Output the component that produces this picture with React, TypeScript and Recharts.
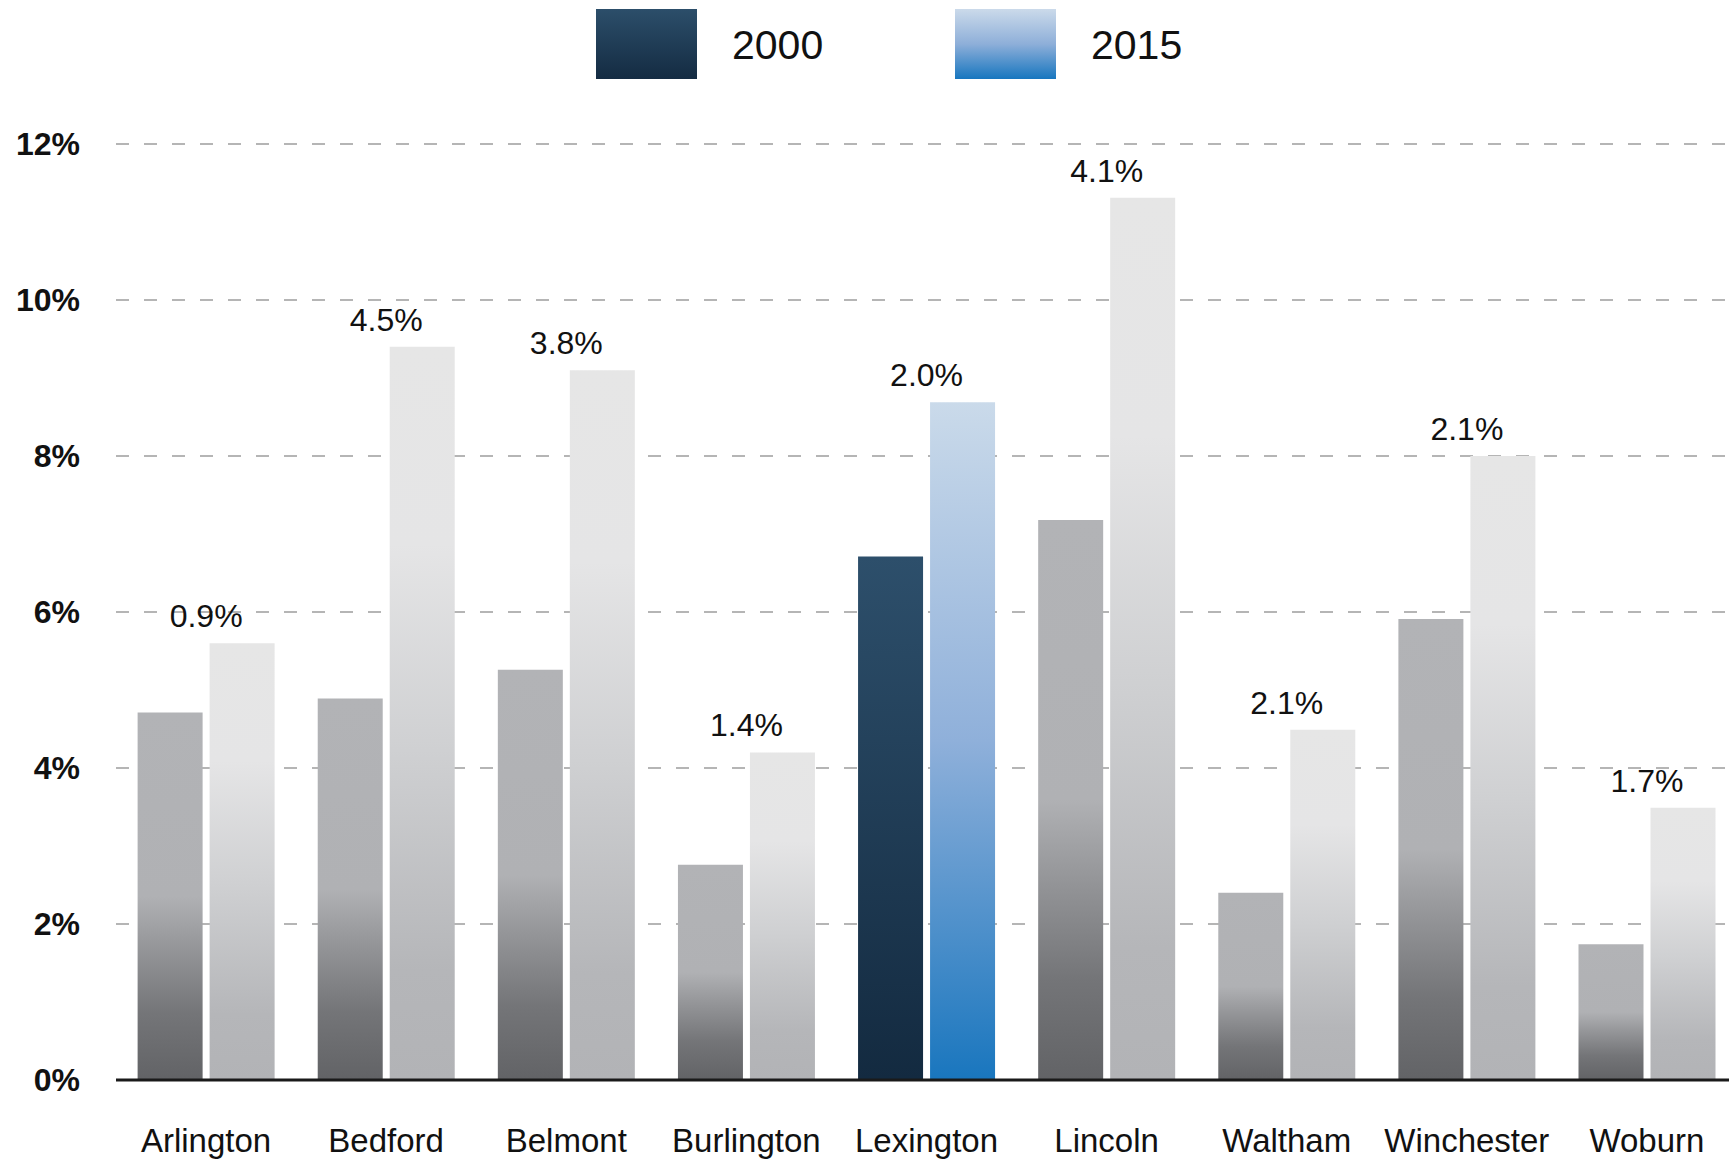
import React from 'react';
import { BarChart, Bar, XAxis, YAxis, CartesianGrid, Cell, LabelList } from 'recharts';

// towns on the x axis
const towns = ['Arlington', 'Bedford', 'Belmont', 'Burlington', 'Lexington', 'Lincoln', 'Waltham', 'Winchester', 'Woburn'];
// share in 2000 and 2015 (%)
const values2000 = [4.71, 4.89, 5.26, 2.76, 6.71, 7.18, 2.40, 5.91, 1.74];
const values2015 = [5.60, 9.40, 9.10, 4.20, 8.69, 11.31, 4.49, 8.00, 3.49];
// change labels shown above each pair
const changeLabels = ['0.9%', '4.5%', '3.8%', '1.4%', '2.0%', '4.1%', '2.1%', '2.1%', '1.7%'];
const yTicks = [0, 2, 4, 6, 8, 10, 12];
const highlightTown = 'Lexington';

const FONT = '"Liberation Sans", Arial, Helvetica, sans-serif';
const BAR_GAP = 7;

const chartData = towns.map((town, i) => ({
  town,
  y2000: values2000[i],
  y2015: values2015[i],
  change: changeLabels[i],
}));

// label centred over the pair, just above the 2015 bar
const renderChange = (props: any) => {
  const { x, y, value } = props;
  return (
    <text
      x={Number(x) - BAR_GAP / 2}
      y={Number(y) - 16}
      textAnchor="middle"
      fill="#111"
      fontSize={32}
      fontFamily={FONT}
    >
      {value}
    </text>
  );
};

const Legend = () => (
  <svg width={1729} height={100} style={{ position: 'absolute', left: 0, top: 0 }}>
    <defs>
      <linearGradient id="lg2000" x1="0" y1="0" x2="0" y2="1">
        <stop offset="0%" stopColor="#2c4e6a" />
        <stop offset="100%" stopColor="#142b42" />
      </linearGradient>
      <linearGradient id="lg2015" x1="0" y1="0" x2="0" y2="1">
        <stop offset="0%" stopColor="#cbdaea" />
        <stop offset="50%" stopColor="#8eafd9" />
        <stop offset="100%" stopColor="#1776bf" />
      </linearGradient>
    </defs>
    <rect x={596} y={9} width={101} height={70} fill="url(#lg2000)" />
    <text x={732} y={59} fontSize={41} fontFamily={FONT} fill="#111">2000</text>
    <rect x={955} y={9} width={101} height={70} fill="url(#lg2015)" />
    <text x={1091} y={59} fontSize={41} fontFamily={FONT} fill="#111">2015</text>
  </svg>
);

export default function App() {
  return (
    <div style={{ position: 'absolute', left: 0, top: 0, width: 1729, height: 1159, overflow: 'hidden', background: '#fff' }}>
      <BarChart
        width={1737}
        height={1159}
        data={chartData}
        margin={{ top: 144, right: 0, bottom: 0, left: 0 }}
        barCategoryGap="12%"
        barGap={BAR_GAP}
      >
        <defs>
          <linearGradient id="gray2000" x1="0" y1="0" x2="0" y2="1">
            <stop offset="0%" stopColor="#b2b3b6" />
            <stop offset="50%" stopColor="#b0b1b4" />
            <stop offset="65%" stopColor="#939497" />
            <stop offset="82%" stopColor="#747578" />
            <stop offset="100%" stopColor="#626366" />
          </linearGradient>
          <linearGradient id="gray2015" x1="0" y1="0" x2="0" y2="1">
            <stop offset="0%" stopColor="#e6e6e6" />
            <stop offset="27%" stopColor="#e5e5e6" />
            <stop offset="55%" stopColor="#cfd0d2" />
            <stop offset="85%" stopColor="#b5b6b9" />
            <stop offset="100%" stopColor="#b2b3b6" />
          </linearGradient>
          <linearGradient id="blue2000" x1="0" y1="0" x2="0" y2="1">
            <stop offset="0%" stopColor="#2d4f6b" />
            <stop offset="100%" stopColor="#132a40" />
          </linearGradient>
          <linearGradient id="blue2015" x1="0" y1="0" x2="0" y2="1">
            <stop offset="0%" stopColor="#cadaea" />
            <stop offset="50%" stopColor="#8fb0da" />
            <stop offset="100%" stopColor="#1976be" />
          </linearGradient>
        </defs>
        <CartesianGrid vertical={false} stroke="#b5b5b5" strokeWidth={2} strokeDasharray="13 15" />
        <XAxis
          dataKey="town"
          height={79}
          tickSize={0}
          tickMargin={49}
          axisLine={{ stroke: '#1a1a1a', strokeWidth: 3 }}
          tick={{ fill: '#111', fontSize: 33, fontFamily: FONT }}
          interval={0}
        />
        <YAxis
          width={116}
          domain={[0, 12]}
          ticks={yTicks}
          tickFormatter={(v) => `${v}%`}
          axisLine={false}
          tickLine={false}
          tickSize={0}
          tickMargin={36}
          tick={{ fill: '#111', fontSize: 32, fontWeight: 'bold', fontFamily: FONT }}
        />
        <Bar dataKey="y2000" isAnimationActive={false}>
          {chartData.map((d) => (
            <Cell key={d.town} fill={d.town === highlightTown ? 'url(#blue2000)' : 'url(#gray2000)'} />
          ))}
        </Bar>
        <Bar dataKey="y2015" isAnimationActive={false}>
          {chartData.map((d) => (
            <Cell key={d.town} fill={d.town === highlightTown ? 'url(#blue2015)' : 'url(#gray2015)'} />
          ))}
          <LabelList dataKey="change" content={renderChange} />
        </Bar>
      </BarChart>
      <Legend />
    </div>
  );
}
